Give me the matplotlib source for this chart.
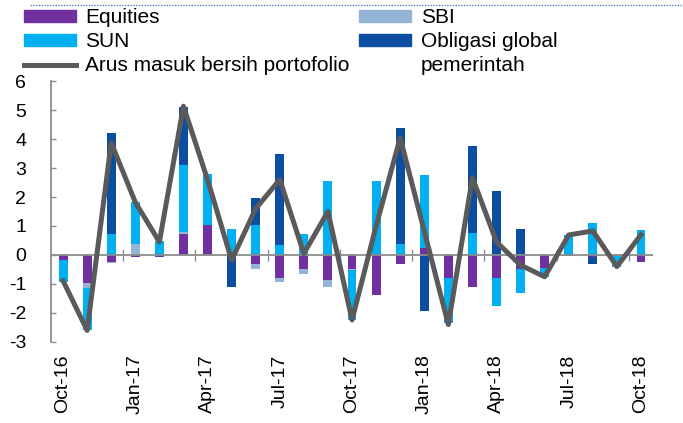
import numpy as np
import matplotlib.pyplot as plt
from matplotlib.lines import Line2D
from matplotlib.patches import Patch

plt.rcParams['font.family'] = ['Liberation Sans', 'DejaVu Sans']
plt.rcParams['axes.unicode_minus'] = False

# data (triliun Rp), Oct-16 .. Oct-18
months = ['Oct-16', 'Nov-16', 'Dec-16', 'Jan-17', 'Feb-17', 'Mar-17', 'Apr-17',
          'May-17', 'Jun-17', 'Jul-17', 'Aug-17', 'Sep-17', 'Oct-17', 'Nov-17',
          'Dec-17', 'Jan-18', 'Feb-18', 'Mar-18', 'Apr-18', 'May-18', 'Jun-18',
          'Jul-18', 'Aug-18', 'Sep-18', 'Oct-18']
equities = [-0.18, -0.95, -0.23, -0.06, -0.06, 0.73, 1.03, 0.0, -0.32, -0.81,
            -0.5, -0.87, -0.47, -1.39, -0.32, 0.23, -0.78, -1.12, -0.78, -0.47,
            -0.45, -0.03, -0.08, -0.05, -0.24]
sbi = [0.0, -0.18, -0.06, 0.37, 0.0, 0.06, 0.0, 0.0, -0.15, -0.13,
       -0.15, -0.23, -0.06, 0.0, 0.0, 0.0, 0.0, 0.0, 0.0, 0.0,
       0.0, 0.0, 0.0, 0.0, 0.0]
sun = [-0.75, -1.47, 0.71, 1.47, 0.48, 2.32, 1.76, 0.91, 1.05, 0.35,
       0.71, 2.56, -1.71, 2.55, 0.37, 2.53, -1.58, 0.75, -0.98, -0.83,
       -0.31, 0.69, 1.11, -0.38, 0.86]
obligasi = [0.0, 0.0, 3.49, 0.0, 0.0, 1.99, 0.0, -1.10, 0.91, 3.15,
            0.0, 0.0, 0.0, 0.0, 4.0, -1.92, 0.0, 3.0, 2.21, 0.9,
            0.0, 0.0, -0.22, 0.0, 0.0]
arus = [-0.89, -2.6, 3.87, 1.82, 0.45, 5.13, 2.6, -0.18, 1.6, 2.6,
        0.05, 1.5, -2.24, 1.0, 4.04, 0.82, -2.4, 2.67, 0.45, -0.35,
        -0.75, 0.69, 0.83, -0.4, 0.7]

c_eq = '#7030a0'
c_sbi = '#95b3d7'
c_sun = '#00b0f0'
c_obl = '#0b4ea2'
c_line = '#5a5a5a'
grey = '#8c8c8c'

fig = plt.figure(figsize=(6.83, 4.23), dpi=100)
ax = fig.add_axes([0.0747, 0.1915, 0.8814, 0.617])

x = np.arange(len(months))
pos = np.zeros(len(x))
neg = np.zeros(len(x))
for vals, c in [(equities, c_eq), (sbi, c_sbi), (sun, c_sun), (obligasi, c_obl)]:
    v = np.array(vals)
    base = np.where(v >= 0, pos, neg)
    ax.bar(x, v, 0.37, bottom=base, color=c, zorder=2)
    pos += np.clip(v, 0, None)
    neg += np.clip(v, None, 0)

ax.axhline(0, color=grey, lw=1.3, zorder=3)
ax.plot(x, arus, color=c_line, lw=3.6, zorder=4)

ax.set_xlim(-0.5, 24.5)
ax.set_ylim(-3, 6)
ax.set_yticks(range(-3, 7))
ax.tick_params(axis='y', direction='in', length=3.5, width=1, color=grey,
               pad=18, labelsize=14)
ax.set_xticks(x[::3])
ax.set_xticklabels(months[::3], rotation=90)
ax.tick_params(axis='x', length=0, pad=9, labelsize=14)
for s in ['top', 'right', 'bottom']:
    ax.spines[s].set_visible(False)
ax.spines['left'].set_color(grey)
ax.spines['left'].set_linewidth(1.3)

# quarter separators on the zero line
sec = ax.secondary_xaxis(1 / 3)
sec.set_xticks(np.arange(2.5, 24, 3))
sec.tick_params(direction='inout', length=8, width=1, color=grey,
                labelbottom=False)
sec.spines['bottom'].set_visible(False)

h1 = [Patch(color=c_eq), Patch(color=c_sun), Line2D([], [], color=c_line, lw=3.6)]
h2 = [Patch(color=c_sbi), Patch(color=c_obl), Patch(color='none')]
kw = dict(loc='upper left', frameon=False, fontsize=15, handlelength=2.5,
          handleheight=0.5, handletextpad=0.45, labelspacing=0.24,
          borderpad=0, borderaxespad=0)
fig.legend(h1, ['Equities', 'SUN', 'Arus masuk bersih portofolio'],
           bbox_to_anchor=(0.035, 0.98), **kw)
fig.legend(h2, ['SBI', 'Obligasi global', 'pemerintah'],
           bbox_to_anchor=(0.526, 0.98), **kw)

fig.add_artist(Line2D([0.044, 1], [0.988, 0.988], color='#4f81bd', lw=1,
                      ls=(0, (1, 1))))

fig.savefig('out.png', dpi=100)
